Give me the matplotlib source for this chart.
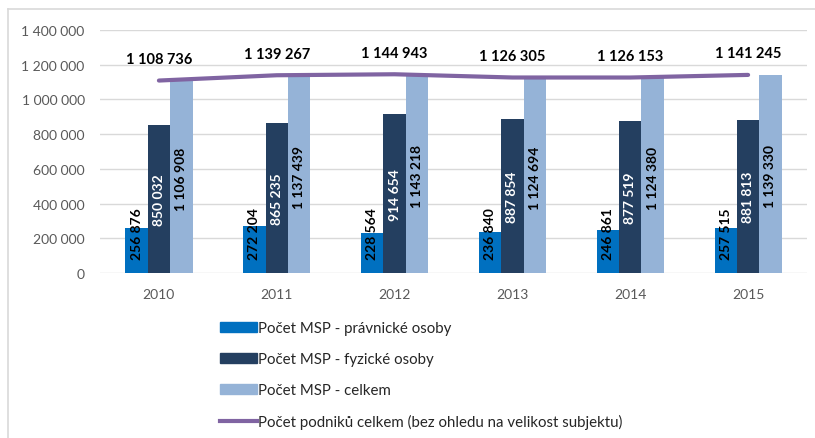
import matplotlib
matplotlib.use("Agg")
import matplotlib.pyplot as plt
from matplotlib.lines import Line2D
from matplotlib.patches import Patch
import numpy as np

plt.rcParams["font.family"] = ["Lato", "DejaVu Sans"]

# data
roky = ["2010", "2011", "2012", "2013", "2014", "2015"]
pravnicke = [256876, 272204, 228564, 236840, 246861, 257515]
fyzicke = [850032, 865235, 914654, 887854, 877519, 881813]
msp_celkem = [1106908, 1137439, 1143218, 1124694, 1124380, 1139330]
podniky_celkem = [1108736, 1139267, 1144943, 1126305, 1126153, 1141245]

nazvy = ["Počet MSP - právnické osoby",
         "Počet MSP - fyzické osoby",
         "Počet MSP - celkem",
         "Počet podniků celkem (bez ohledu na velikost subjektu)"]

c_modra = "#0070C0"
c_tmava = "#243F60"
c_svetla = "#95B3D7"
c_fial = "#8064A2"
c_sedy = "#595959"


def fmt(v):
    return f"{v:,}".replace(",", " ")


fig = plt.figure(figsize=(8.15, 4.39), dpi=100)
ax = fig.add_axes([0.1227, 0.3759, 0.8675, 0.5535])

x = np.arange(len(roky))
w = 0.19

ax.bar(x - w, pravnicke, w, color=c_modra, zorder=2)
ax.bar(x, fyzicke, w, color=c_tmava, zorder=2)
ax.bar(x + w, msp_celkem, w, color=c_svetla, zorder=2)
ax.plot(x, podniky_celkem, color=c_fial, lw=3, zorder=3, solid_capstyle="round")

# popisky v sloupcich
for i in range(len(roky)):
    ax.text(x[i] - w, 80000, fmt(pravnicke[i]), rotation=90, ha="center",
            va="bottom", fontsize=10, fontweight="bold", color="black", zorder=4)
    ax.text(x[i], fyzicke[i] / 2, fmt(fyzicke[i]), rotation=90, ha="center",
            va="center", fontsize=10, fontweight="bold", color="white", zorder=4)
    ax.text(x[i] + w, msp_celkem[i] / 2 - 10000, fmt(msp_celkem[i]), rotation=90,
            ha="center", va="center", fontsize=10, fontweight="bold",
            color="black", zorder=4)
    ax.text(x[i], podniky_celkem[i] + 125000, fmt(podniky_celkem[i]),
            ha="center", va="center", fontsize=10.5, fontweight="bold",
            color="black", zorder=4)

ax.set_xlim(-0.5, 5.5)
ax.set_ylim(0, 1400000)
ax.set_yticks(range(0, 1400001, 200000))
ax.set_yticklabels([fmt(v) for v in range(0, 1400001, 200000)])
ax.set_xticks(x)
ax.set_xticklabels(roky)
ax.tick_params(length=0, labelsize=10, colors=c_sedy)
ax.tick_params(axis="y", pad=11)
ax.tick_params(axis="x", pad=11)
ax.grid(axis="y", color="#D9D9D9", lw=1, zorder=0)
for s in ax.spines.values():
    s.set_visible(False)

# ramecek
fig.add_artist(Line2D([8 / 815, 8 / 815], [0, 1 - 10 / 439], color="#D9D9D9", lw=1.2))
fig.add_artist(Line2D([8 / 815, 1], [1 - 10 / 439, 1 - 10 / 439], color="#D9D9D9", lw=1.2))

handles = [Patch(color=c_modra), Patch(color=c_tmava), Patch(color=c_svetla),
           Line2D([], [], color=c_fial, lw=3)]
fig.legend(handles, nazvy, loc="upper left", bbox_to_anchor=(212 / 815, 1 - 315 / 439),
           frameon=False, fontsize=10.8, labelspacing=1.13, handlelength=2.5,
           handleheight=0.6, handletextpad=0.1, borderpad=0, labelcolor="#262626")

fig.savefig("out.png", dpi=100)
